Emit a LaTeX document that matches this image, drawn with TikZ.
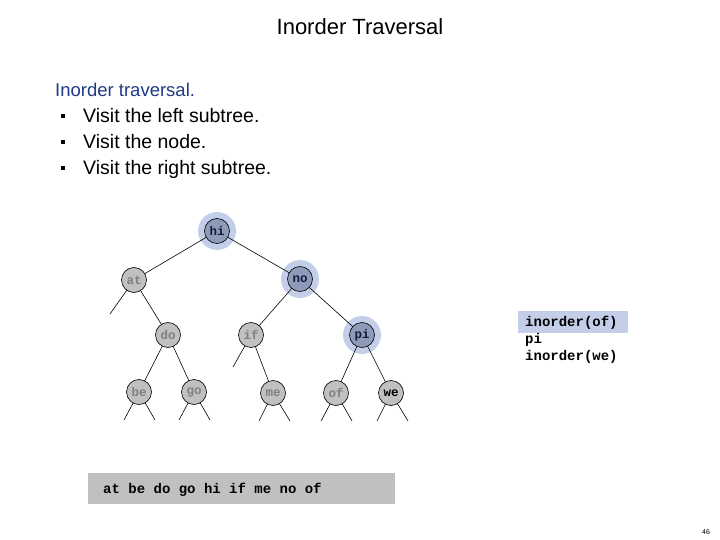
\documentclass[tikz,border=0pt]{standalone}
\usepackage{fontspec}
\setmainfont{Liberation Sans}
\newfontfamily\monob[BoldFont={Liberation Mono Bold}]{Liberation Mono}
\usetikzlibrary{backgrounds}
\definecolor{graynode}{HTML}{C0C0C0}
\definecolor{graytext}{HTML}{808080}
\definecolor{bluenode}{HTML}{8E9BB8}
\definecolor{halocol}{HTML}{C3CFE8}
\definecolor{navy}{HTML}{1F3A86}
\definecolor{darknavy}{HTML}{101A3A}
\tikzset{
  tnode/.style={circle,draw=black,line width=0.6pt,minimum size=25pt,inner sep=0pt,
    font=\monob\bfseries\fontsize{12.5}{12.5}\selectfont},
  grayn/.style={tnode,fill=graynode,text=graytext},
  bluen/.style={tnode,fill=bluenode,text=darknavy},
  blackn/.style={tnode,fill=graynode,text=black},
  edge/.style={line width=0.6pt},
  halo/.style={fill=halocol},
  bodytext/.style={anchor=base west,inner sep=0pt,font=\fontsize{19.5}{22}\selectfont},
  monotext/.style={anchor=base west,inner sep=0pt,font=\monob\bfseries\fontsize{14}{14}\selectfont}
}
\begin{document}
\begin{tikzpicture}[x=1pt,y=-1pt]
\useasboundingbox (0,0) rectangle (720,540);
% title
\node[anchor=base,inner sep=0pt,font=\fontsize{22}{26}\selectfont] (title) at (360,35) {Inorder Traversal};
\node[anchor=base west,inner sep=0pt,font=\fontsize{18.5}{22}\selectfont,text=navy] (intro) at (55,97) {Inorder traversal.};
\node[bodytext] (i1) at (83,123) {Visit the left subtree.};
\node[bodytext] (i2) at (83,149) {Visit the node.};
\node[bodytext] (i3) at (83,175) {Visit the right subtree.};
\fill (61,114) rectangle (65,118);
\fill (61,140) rectangle (65,144);
\fill (61,166) rectangle (65,170);
% tree nodes
\node[bluen] (hi) at (217,231) {hi};
\node[grayn] (at) at (134,280) {at};
\node[bluen] (no) at (300,279) {no};
\node[grayn] (do) at (168,335) {do};
\node[grayn] (if) at (251,335) {if};
\node[bluen] (pi) at (362,335) {pi};
\node[grayn] (be) at (139,392) {be};
\node[grayn] (go) at (194,392) {go};
\node[grayn] (me) at (273,393) {me};
\node[grayn] (of) at (336,393) {of};
\node[blackn] (we) at (391,393) {we};
% stub ends
\coordinate (atL) at (110,314);
\coordinate (ifL) at (233,367);
\coordinate (beL) at (124,420); \coordinate (beR) at (155,420);
\coordinate (goL) at (179,420); \coordinate (goR) at (210,420);
\coordinate (meL) at (259,421); \coordinate (meR) at (290,421);
\coordinate (ofL) at (321,421); \coordinate (ofR) at (352,421);
\coordinate (weL) at (377,421); \coordinate (weR) at (408,421);
\begin{scope}[on background layer]
  \fill[halo] (hi.center) circle (19);
  \fill[halo] (no.center) circle (19);
  \fill[halo] (pi.center) circle (19);
  \draw[edge] (hi.center) -- (at.center);
  \draw[edge] (hi.center) -- (no.center);
  \draw[edge] (at.center) -- (atL);
  \draw[edge] (at.center) -- (do.center);
  \draw[edge] (no.center) -- (if.center);
  \draw[edge] (no.center) -- (pi.center);
  \draw[edge] (do.center) -- (be.center);
  \draw[edge] (do.center) -- (go.center);
  \draw[edge] (if.center) -- (ifL);
  \draw[edge] (if.center) -- (me.center);
  \draw[edge] (pi.center) -- (of.center);
  \draw[edge] (pi.center) -- (we.center);
  \draw[edge] (be.center) -- (beL); \draw[edge] (be.center) -- (beR);
  \draw[edge] (go.center) -- (goL); \draw[edge] (go.center) -- (goR);
  \draw[edge] (me.center) -- (meL); \draw[edge] (me.center) -- (meR);
  \draw[edge] (of.center) -- (ofL); \draw[edge] (of.center) -- (ofR);
  \draw[edge] (we.center) -- (weL); \draw[edge] (we.center) -- (weR);
\end{scope}
% right call stack
\fill[halocol] (518,311) rectangle (628,333);
\node[monotext] (c1) at (525,326) {inorder(of)};
\node[monotext] (c2) at (525,343) {pi};
\node[monotext] (c3) at (525,360) {inorder(we)};
% output box
\fill[graynode] (88,473) rectangle (395,504);
\node[monotext] (out) at (103,493) {at be do go hi if me no of};
% page number
\node[anchor=base,inner sep=0pt,font=\fontsize{7}{7}\selectfont] (pg) at (706,534) {46};
\end{tikzpicture}
\end{document}
